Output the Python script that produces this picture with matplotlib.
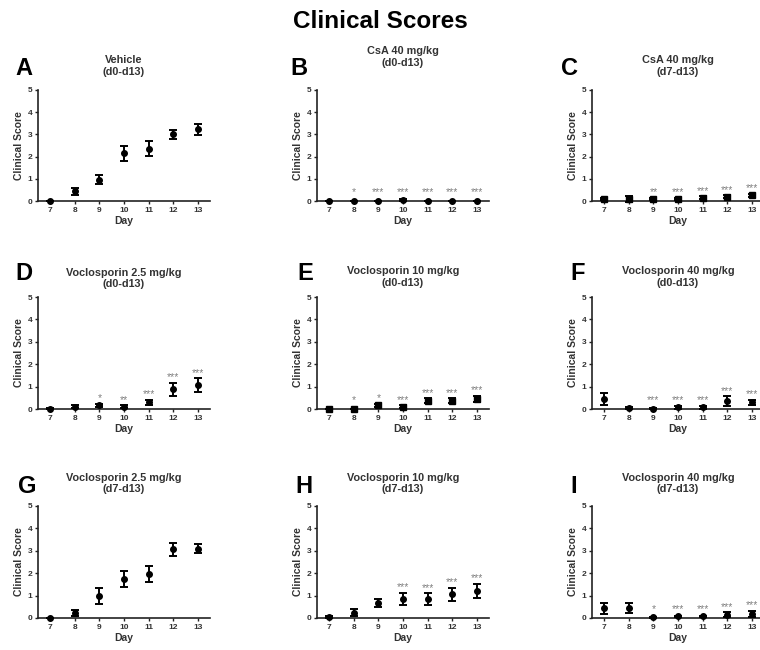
import numpy as np
import matplotlib
matplotlib.use("Agg")
import matplotlib.pyplot as plt

plt.rcParams['font.family'] = ['Liberation Sans', 'DejaVu Sans']

days = [7, 8, 9, 10, 11, 12, 13]

letters = ['A', 'B', 'C', 'D', 'E', 'F', 'G', 'H', 'I']
titles = ['Vehicle\n(d0-d13)', 'CsA 40 mg/kg\n(d0-d13)', 'CsA 40 mg/kg\n(d7-d13)',
          'Voclosporin 2.5 mg/kg\n(d0-d13)', 'Voclosporin 10 mg/kg\n(d0-d13)',
          'Voclosporin 40 mg/kg\n(d0-d13)', 'Voclosporin 2.5 mg/kg\n(d7-d13)',
          'Voclosporin 10 mg/kg\n(d7-d13)', 'Voclosporin 40 mg/kg\n(d7-d13)']

# mean clinical score per day
mean_A = [0.0, 0.43, 0.96, 2.14, 2.36, 3.0, 3.23]
mean_B = [0.0, 0.0, 0.0, 0.05, 0.0, 0.0, 0.0]
mean_C = [0.09, 0.1, 0.08, 0.08, 0.15, 0.2, 0.25]
mean_D = [0.02, 0.1, 0.16, 0.1, 0.3, 0.88, 1.07]
mean_E = [0.0, 0.0, 0.16, 0.1, 0.37, 0.37, 0.46]
mean_F = [0.45, 0.06, 0.02, 0.07, 0.07, 0.34, 0.3]
mean_G = [0.0, 0.22, 0.99, 1.76, 1.97, 3.06, 3.1]
mean_H = [0.05, 0.24, 0.67, 0.86, 0.84, 1.05, 1.2]
mean_I = [0.43, 0.43, 0.03, 0.07, 0.07, 0.15, 0.18]

# SEM
sem_A = [0.0, 0.17, 0.2, 0.36, 0.35, 0.2, 0.26]
sem_B = [0.0, 0.0, 0.0, 0.04, 0.0, 0.0, 0.0]
sem_C = [0.05, 0.14, 0.05, 0.05, 0.06, 0.06, 0.06]
sem_D = [0.03, 0.06, 0.06, 0.06, 0.1, 0.3, 0.3]
sem_E = [0.0, 0.0, 0.06, 0.06, 0.1, 0.1, 0.13]
sem_F = [0.25, 0.04, 0.03, 0.05, 0.05, 0.22, 0.12]
sem_G = [0.0, 0.13, 0.35, 0.36, 0.35, 0.28, 0.22]
sem_H = [0.04, 0.14, 0.17, 0.27, 0.26, 0.3, 0.31]
sem_I = [0.25, 0.22, 0.03, 0.04, 0.04, 0.1, 0.15]

# significance vs vehicle
sig_A = ['', '', '', '', '', '', '']
sig_B = ['', '*', '***', '***', '***', '***', '***']
sig_C = ['', '', '**', '***', '***', '***', '***']
sig_D = ['', '', '*', '**', '***', '***', '***']
sig_E = ['', '*', '*', '***', '***', '***', '***']
sig_F = ['', '', '***', '***', '***', '***', '***']
sig_G = ['', '', '', '', '', '', '']
sig_H = ['', '', '', '***', '***', '***', '***']
sig_I = ['', '', '*', '***', '***', '***', '***']

means = [mean_A, mean_B, mean_C, mean_D, mean_E, mean_F, mean_G, mean_H, mean_I]
sems = [sem_A, sem_B, sem_C, sem_D, sem_E, sem_F, sem_G, sem_H, sem_I]
sigs = [sig_A, sig_B, sig_C, sig_D, sig_E, sig_F, sig_G, sig_H, sig_I]
markers = ['o', 'o', 's', 'o', 's', 'o', 'o', 'o', 'o']

W, H = 760, 650
fig = plt.figure(figsize=(W / 100, H / 100), dpi=100)

col_left = [38, 317, 592]
ax_w = 172
row_top = [90, 297, 506]
row_bot = [201, 409, 618]
title_pad = [11, 17.5, 11, 7, 8, 8, 10, 10, 10]
letter_x = [15, 290, 561, 15, 297, 570, 18, 295, 570]
letter_base = [75, 75, 75, 280, 280, 280, 493, 493, 493]

fig.text(0.5, 1 - 21 / H, 'Clinical Scores', ha='center', va='center',
         fontsize=17.5, fontweight='bold')

dark = '#222222'
for i in range(9):
    r, c = divmod(i, 3)
    left = col_left[c] / W
    bottom = 1 - row_bot[r] / H
    height = (row_bot[r] - row_top[r]) / H
    ax = fig.add_axes([left, bottom, ax_w / W, height])

    m = np.array(means[i])
    s = np.array(sems[i])
    ax.errorbar(days, m, yerr=s, fmt=markers[i], color='black', ms=4,
                elinewidth=1.4, capsize=3, capthick=1.4, clip_on=False, zorder=3)

    # stars above the bars
    for d, mv, sv, lab in zip(days, m, s, sigs[i]):
        if lab:
            y = max(mv + sv + 0.25, 0.38)
            ax.text(d, y, lab, ha='center', va='center', fontsize=7.5, color='#808080')

    ax.set_xlim(6.5, 13.5)
    ax.set_ylim(0, 5)
    ax.set_xticks(days)
    ax.set_yticks(range(6))
    for sp in ['top', 'right']:
        ax.spines[sp].set_visible(False)
    for sp in ['left', 'bottom']:
        ax.spines[sp].set_color(dark)
        ax.spines[sp].set_linewidth(1.2)
    ax.tick_params(length=2.5, width=1, color=dark, labelsize=6, pad=1.5,
                   labelcolor='#333333')
    for lb in ax.get_xticklabels() + ax.get_yticklabels():
        lb.set_fontweight('bold')
    ax.set_xlabel('Day', fontsize=7.5, fontweight='bold', labelpad=2, color='#333333')
    ax.set_ylabel('Clinical Score', fontsize=7.5, fontweight='bold', labelpad=3,
                  color='#333333')
    ax.set_title(titles[i], fontsize=7.8, fontweight='bold', pad=title_pad[i],
                 linespacing=1.2, color='#333333')

    fig.text(letter_x[i] / W, 1 - letter_base[i] / H, letters[i], ha='left',
             va='baseline', fontsize=17, fontweight='bold')

fig.savefig('out.png', dpi=100)
